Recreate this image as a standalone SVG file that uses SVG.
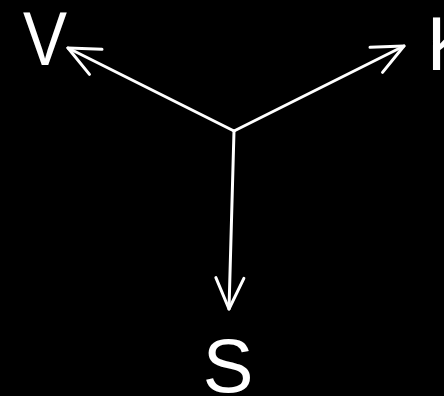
<svg xmlns="http://www.w3.org/2000/svg" width="444" height="396" viewBox="0 0 444 396">
  <defs>
    <style>
      .edge { fill: none; stroke: #ffffff; stroke-width: 3; stroke-linecap: round; stroke-linejoin: round; }
      .label { fill: #ffffff; font-family: "Liberation Sans", "DejaVu Sans", sans-serif; font-size: 76px; text-anchor: middle; }
    </style>
    <marker id="chev" viewBox="-36 -20 40 40" refX="0" refY="0" markerWidth="40" markerHeight="40" markerUnits="userSpaceOnUse" orient="auto">
      <path d="M -31 -14 L 0 0 L -31 14" fill="none" stroke="#ffffff" stroke-width="3" stroke-linecap="round" stroke-linejoin="round"/>
    </marker>
    <filter id="glow" x="-20%" y="-20%" width="140%" height="140%">
      <feGaussianBlur stdDeviation="0.6"/>
    </filter>
  </defs>
  <rect width="444" height="396" fill="#000000"/>
  <g id="connectors" filter="url(#glow)">
    <line class="edge" x1="234" y1="131" x2="68" y2="48" marker-end="url(#chev)"/>
    <line class="edge" x1="234" y1="131" x2="404" y2="46" marker-end="url(#chev)"/>
    <line class="edge" x1="234" y1="131" x2="229" y2="309" marker-end="url(#chev)"/>
  </g>
  <g id="node-V">
    <text class="label" x="45" y="65" textLength="44" lengthAdjust="spacingAndGlyphs">V</text>
  </g>
  <g id="node-K">
    <text class="label" x="452" y="70">K</text>
  </g>
  <g id="node-S">
    <text class="label" x="228" y="392">S</text>
  </g>
</svg>
